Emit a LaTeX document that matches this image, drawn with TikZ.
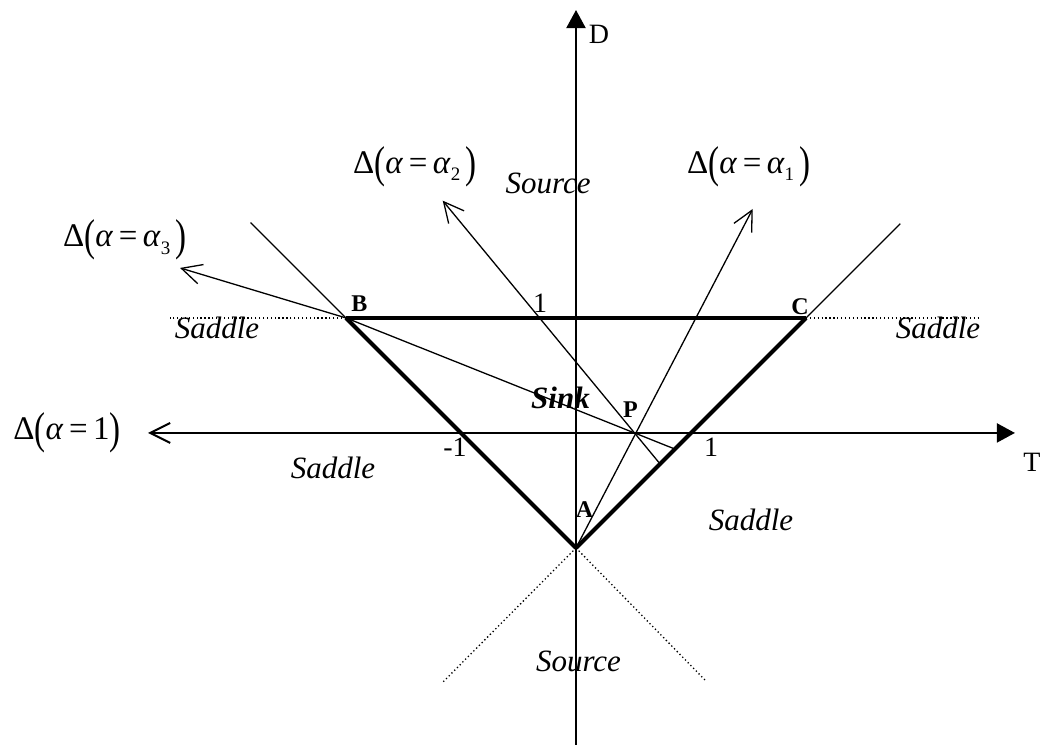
\documentclass[tikz,border=0pt]{standalone}
\usepackage{fontspec}
\setmainfont{Liberation Serif}
\usepackage{graphicx}
\usetikzlibrary{arrows.meta}

\newcommand{\bigparen}[1]{\raisebox{-0.12em}{\scalebox{1}[1.35]{#1}}}
\newcommand{\dlab}[1]{Δ\bigparen{(}\textit{α}\,=\,#1\bigparen{)}}
\newcommand{\asub}[1]{\textit{α}\raisebox{-0.22em}{\fontsize{19}{19}\selectfont #1}\,}

\begin{document}
\begin{tikzpicture}[
    x=115pt,y=115pt,
    axisln/.style={line width=2pt},
    edgeln/.style={line width=4pt},
    extln/.style={line width=1.3pt},
    dotln/.style={line width=1.3pt,dash pattern=on 1.3pt off 2.6pt},
    ray/.style={line width=1.3pt,-{Straight Barb[length=20pt,width=20pt]}},
    region/.style={inner sep=0pt,font=\fontsize{31}{31}\selectfont\itshape},
    vtx/.style={inner sep=0pt,font=\fontsize{24}{24}\selectfont\bfseries},
    num/.style={inner sep=0pt,font=\fontsize{28}{28}\selectfont},
    dlbl/.style={inner sep=0pt,font=\fontsize{33}{33}\selectfont},
  ]
    \useasboundingbox (-5.009,-2.783) rectangle (4.035,3.765);

    % points of the triangle
    \coordinate (O) at (0,0);
    \coordinate (A) at (0,-1);
    \coordinate (B) at (-2,1);
    \coordinate (C) at (2,1);
    \coordinate (P) at (0.5,0);

    % axes
    \coordinate (dtop) at (0,3.678);
    \coordinate (dbot) at (0,-2.713);
    \coordinate (tleft) at (-3.722,0);
    \coordinate (tright) at (3.817,0);
    \draw[axisln,-{Triangle[length=18pt,width=19pt]}] (dbot) -- (dtop);
    \draw[axisln,{Straight Barb[length=20pt,width=20pt]}-{Triangle[length=18pt,width=19pt]}] (tleft) -- (tright);
    \node[num] (dlbl) at (0.2,3.465) {D};
    \node[num] (tlbl) at (3.965,-0.252) {T};

    % extensions
    \coordinate (bext) at (-2.83,1.83);
    \coordinate (cext) at (2.82,1.82);
    \coordinate (bdot) at (-3.53,1);
    \coordinate (cdot) at (3.51,1);
    \coordinate (adl) at (-1.154,-2.163);
    \coordinate (adr) at (1.136,-2.163);
    \draw[extln] (B) -- (bext);
    \draw[extln] (C) -- (cext);
    \draw[dotln] (B) -- (bdot);
    \draw[dotln] (C) -- (cdot);
    \draw[dotln] (A) -- (adl);
    \draw[dotln] (A) -- (adr);

    % Delta lines
    \coordinate (tipa) at (1.537,1.948);
    \coordinate (enda) at (0.74,-0.28);
    \coordinate (tipb) at (-1.159,2.02);
    \coordinate (endc) at (0.86,-0.14);
    \coordinate (tipc) at (-3.443,1.435);
    \draw[ray] (A) -- (tipa);
    \draw[ray] (enda) -- (tipb);
    \draw[ray] (endc) -- (B) -- (tipc);

    % stability triangle
    \draw[edgeln] (B) -- (C);
    \draw[edgeln] (C) -- (A);
    \draw[edgeln] (A) -- (B);

    % labels
    \node[num] (one) at (-0.313,1.13) {1};
    \node[num] (mone) at (-1.052,-0.122) {-1};
    \node[num] (oner) at (1.174,-0.122) {1};
    \node[vtx] (plbl) at (0.474,0.204) {P};
    \node[vtx] (albl) at (0.074,-0.67) {A};
    \node[vtx] (blbl) at (-1.883,1.122) {B};
    \node[vtx] (clbl) at (1.948,1.1) {C};
    \node[region,font=\fontsize{31}{31}\selectfont\bfseries\itshape] (sink) at (-0.135,0.304) {Sink};
    \node[region] (srctop) at (-0.243,2.174) {Source};
    \node[region] (srcbot) at (0.022,-1.991) {Source};
    \node[region] (sadl) at (-3.122,0.913) {Saddle};
    \node[region] (sadr) at (3.148,0.913) {Saddle};
    \node[region] (sadll) at (-2.113,-0.304) {Saddle};
    \node[region] (sadlr) at (1.522,-0.757) {Saddle};
    \node[dlbl] (done) at (-4.426,0) {\dlab{1}};
    \node[dlbl] (dthree) at (-3.922,1.678) {\dlab{\asub{3}}};
    \node[dlbl] (dtwo) at (-1.4,2.313) {\dlab{\asub{2}}};
    \node[dlbl] (done1) at (1.504,2.313) {\dlab{\asub{1}}};
  \end{tikzpicture}
\end{document}
